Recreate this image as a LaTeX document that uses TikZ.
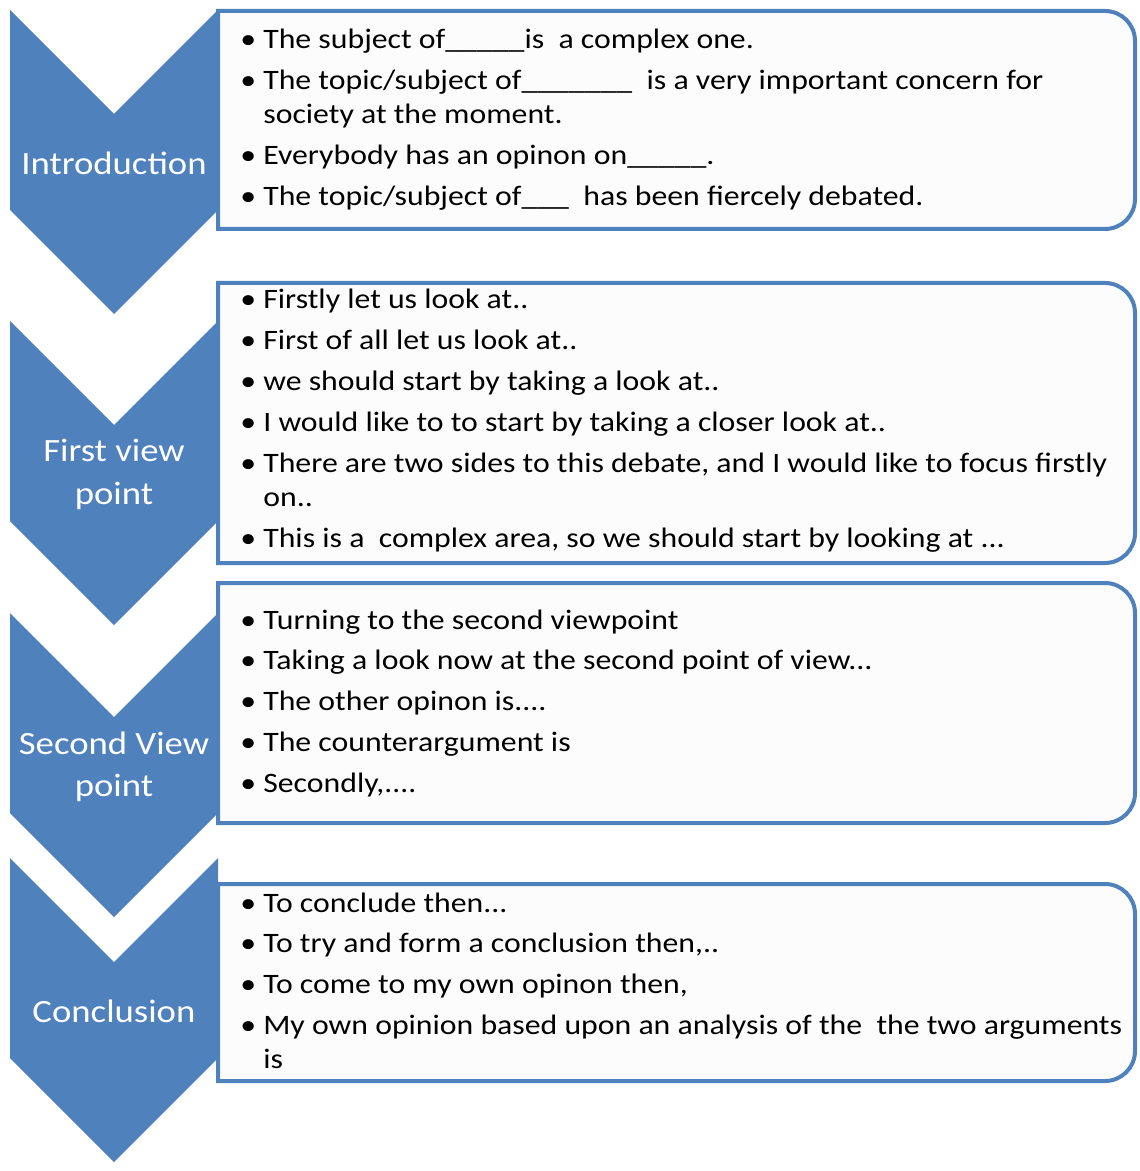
\documentclass[tikz,border=0pt]{standalone}
\usepackage{fontspec}
\setmainfont{Carlito}[FakeStretch=1.13]
\usepackage{tikz}
\usetikzlibrary{calc}
\definecolor{chevblue}{HTML}{4F81BD}
\tikzstyle{chevron}=[fill=chevblue]
\tikzstyle{listbox}=[draw=chevblue, line width=.08cm, fill=white!99!black]
\tikzstyle{chevlabel}=[text=white, align=center, inner sep=0pt, font=\fontsize{18.5}{24}\selectfont]
\tikzstyle{listtext}=[anchor=base west, inner sep=0pt, font=\fontsize{16}{19.3}\selectfont]
\newcommand{\nchevron}[3]{
	\fill[chevron] (.2,#1) -- (2.28,{#1-2.08}) -- (4.36,#1) -- (4.36,{#1-4}) -- (2.28,{#1-6.08}) -- (.2,{#1-4}) -- cycle;
	\node[chevlabel] (#2) at (2.28,{#1-3.07}) {#3};
}
\newcommand{\nbox}[3]{
	\filldraw[listbox] (4.36,#2) -- ($(22.7,#2)+(-.6,0)$) arc (90:0:.6) -- ($(22.7,#3)+(0,.6)$) arc (0:-90:.6) -- (4.36,#3) -- cycle;
	\coordinate (#1) at (4.36,#2);
}
\newcommand{\blt}{\textbullet}

\begin{document}
\begin{tikzpicture}
	\useasboundingbox (0,0) rectangle (22.78,-23.42);
%
	\nchevron{-.2}{intro}{Introduction}
	\nchevron{-6.42}{first}{First view\\point}
	\nchevron{-12.26}{second}{Second View\\point}
	\nchevron{-17.16}{concl}{Conclusion}
%
	\nbox{introbox}{-.22}{-4.58}
	\nbox{firstbox}{-5.66}{-11.26}
	\nbox{secondbox}{-11.66}{-16.46}
	\nbox{conclbox}{-17.68}{-21.62}
%
	\node[listtext] (introtext) at (4.8,-.97) {\begin{tabular}[t]{@{}p{.46cm}@{}l@{}}
		\blt & The subject of\_\_\_\_\_is\ \ a complex one.\\[.14cm]
		\blt & The topic/subject of\_\_\_\_\_\_\_\ \ is a very important concern for\\
		& society at the moment.\\[.14cm]
		\blt & Everybody has an opinon on\_\_\_\_\_.\\[.14cm]
		\blt & The topic/subject of\_\_\_\ \ has been fiercely debated.
	\end{tabular}};
	\node[listtext] (firsttext) at (4.8,-6.18) {\begin{tabular}[t]{@{}p{.46cm}@{}l@{}}
		\blt & Firstly let us look at..\\[.14cm]
		\blt & First of all let us look at..\\[.14cm]
		\blt & we should start by taking a look at..\\[.14cm]
		\blt & I would like to to start by taking a closer look at..\\[.14cm]
		\blt & There are two sides to this debate, and I would like to focus firstly\\
		& on..\\[.14cm]
		\blt & This is a\ \ complex area, so we should start by looking at ...
	\end{tabular}};
	\node[listtext] (secondtext) at (4.8,-12.58) {\begin{tabular}[t]{@{}p{.46cm}@{}l@{}}
		\blt & Turning to the second viewpoint\\[.14cm]
		\blt & Taking a look now at the second point of view...\\[.14cm]
		\blt & The other opinon is....\\[.14cm]
		\blt & The counterargument is\\[.14cm]
		\blt & Secondly,....
	\end{tabular}};
	\node[listtext] (concltext) at (4.8,-18.24) {\begin{tabular}[t]{@{}p{.46cm}@{}l@{}}
		\blt & To conclude then...\\[.14cm]
		\blt & To try and form a conclusion then,..\\[.14cm]
		\blt & To come to my own opinon then,\\[.14cm]
		\blt & My own opinion based upon an analysis of the\ \ the two arguments\\
		& is
	\end{tabular}};
\end{tikzpicture}
\end{document}
